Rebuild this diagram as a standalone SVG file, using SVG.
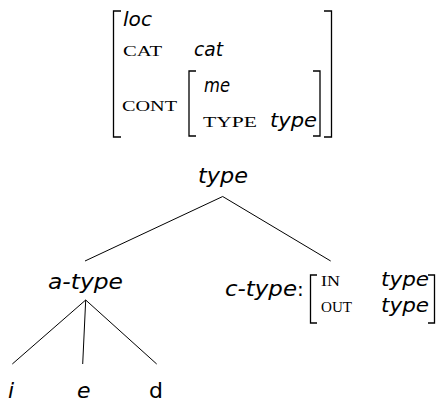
<svg xmlns="http://www.w3.org/2000/svg" width="438" height="402" viewBox="0 0 438 402">
<style>
.it{font-family:"DejaVu Sans",sans-serif;font-style:italic;fill:#000}
.up{font-family:"DejaVu Sans",sans-serif;fill:#000}
.sc{font-family:"Liberation Serif",serif;font-size:15px;fill:#000}
.br{fill:none;stroke:#000;stroke-width:1.3}
.ln{stroke:#000;stroke-width:1;fill:none}
</style>
<rect width="438" height="402" fill="#fff"/>
<g id="avm">
  <path class="br" d="M121,11 H113.5 V137 H121"/>
  <path class="br" d="M324,11 H331.5 V137 H324"/>
  <text class="it" x="123" y="26" font-size="20" textLength="29" lengthAdjust="spacingAndGlyphs">loc</text>
  <text class="sc" x="123" y="56" textLength="39" lengthAdjust="spacingAndGlyphs">CAT</text>
  <text class="it" x="194" y="56" font-size="20" textLength="29" lengthAdjust="spacingAndGlyphs">cat</text>
  <text class="sc" x="122" y="111" textLength="55" lengthAdjust="spacingAndGlyphs">CONT</text>
  <path class="br" d="M196,71 H189 V136 H196"/>
  <path class="br" d="M313,71 H320 V136 H313"/>
  <text class="it" x="204" y="92" font-size="20" textLength="26" lengthAdjust="spacingAndGlyphs">me</text>
  <text class="sc" x="203" y="127" textLength="54" lengthAdjust="spacingAndGlyphs">TYPE</text>
  <text class="it" x="270" y="127" font-size="20" textLength="47" lengthAdjust="spacingAndGlyphs">type</text>
</g>
<g id="connectors">
  <line class="ln" x1="222.7" y1="196.5" x2="85" y2="261"/>
  <line class="ln" x1="222.7" y1="196.5" x2="330.7" y2="261"/>
  <line class="ln" x1="85.7" y1="300" x2="12.3" y2="364"/>
  <line class="ln" x1="85.7" y1="300" x2="82.7" y2="364"/>
  <line class="ln" x1="85.7" y1="300" x2="156.7" y2="364"/>
</g>
<g id="root">
  <text class="it" x="198" y="183" font-size="22" textLength="50" lengthAdjust="spacingAndGlyphs">type</text>
</g>
<g id="a-type">
  <text class="it" x="48" y="289" font-size="22" textLength="75" lengthAdjust="spacingAndGlyphs">a-type</text>
</g>
<g id="c-type">
  <text class="it" x="225" y="296" font-size="22" textLength="72" lengthAdjust="spacingAndGlyphs">c-type</text>
  <text class="up" x="297" y="296" font-size="20">:</text>
  <path class="br" d="M317,275 H310.5 V323 H317"/>
  <path class="br" d="M428,275 H434.5 V323 H428"/>
  <text class="sc" x="321" y="286" textLength="19" lengthAdjust="spacingAndGlyphs">IN</text>
  <text class="it" x="381" y="286" font-size="20" textLength="48" lengthAdjust="spacingAndGlyphs">type</text>
  <text class="sc" x="321" y="312" textLength="31" lengthAdjust="spacingAndGlyphs">OUT</text>
  <text class="it" x="381" y="312" font-size="20" textLength="48" lengthAdjust="spacingAndGlyphs">type</text>
</g>
<g id="i"><text class="it" x="8" y="398" font-size="22">i</text></g>
<g id="e"><text class="it" x="77" y="398" font-size="22">e</text></g>
<g id="d"><text class="up" x="149" y="398" font-size="22">d</text></g>
</svg>
